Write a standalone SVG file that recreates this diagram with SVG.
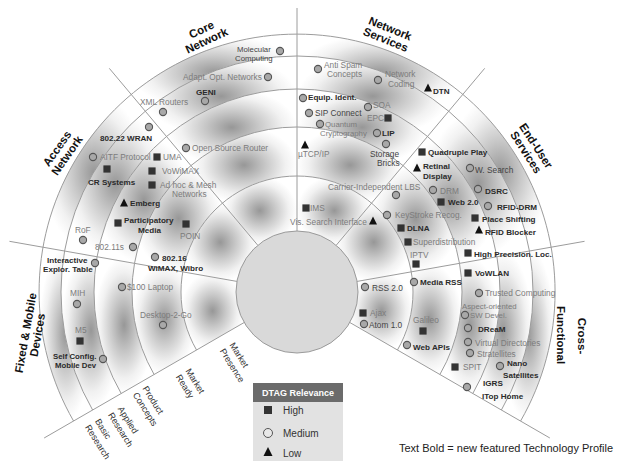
<svg xmlns="http://www.w3.org/2000/svg" width="618" height="461" viewBox="0 0 618 461">
  <defs>
    <radialGradient id="cell" cx="0.5" cy="0.5" r="0.5">
      <stop offset="0" stop-color="#979797"/>
      <stop offset="0.42" stop-color="#c9c9c9"/>
      <stop offset="0.78" stop-color="#f1f1f1"/>
      <stop offset="1" stop-color="#ffffff"/>
    </radialGradient>
    <rect id="sq" x="-3.6" y="-3.6" width="7.2" height="7.2"/>
    <circle id="ci" r="3.6"/>
    <polygon id="tr" points="0,-4.6 -4,3.4 4,3.4"/>
  </defs>
  <style>
    text { font-family: "Liberation Sans", Arial, sans-serif; }
    .g { font-size: 8.3px; fill: #7c7c7c; }
    .m { font-size: 8.3px; fill: #444; }
    .b { font-size: 8.1px; fill: #2a2a2a; font-weight: bold; }
    .tight { font-size: 7.8px; }
    .sec { font-size: 11.5px; font-weight: bold; fill: #111; text-anchor: middle; }
    .ring { font-size: 9px; fill: #333; }
    .cells path { fill: url(#cell); stroke: none; }
    .grid { fill: none; stroke: #9c9c9c; stroke-width: 1; }
    use.s { fill: #333; }
    use.c { fill: #a8a8a8; stroke: #555; stroke-width: 1.1; }
    use.t { fill: #111; }
  </style>

  <rect width="618" height="461" fill="#fff"/>

  <!-- shaded cells: 6 sectors x 5 maturity rings, centre (297,292) -->
  <g class="cells">
    <path d="M196.54,350 A116,116 0 0 1 182.76,271.86 L236.93,281.41 A61,61 0 0 0 244.17,322.5Z"/>
    <path d="M182.76,271.86 A116,116 0 0 1 222.44,203.14 L257.79,245.27 A61,61 0 0 0 236.93,281.41Z"/>
    <path d="M222.44,203.14 A116,116 0 0 1 297,176 L297,231 A61,61 0 0 0 257.79,245.27Z"/>
    <path d="M297,176 A116,116 0 0 1 371.56,203.14 L336.21,245.27 A61,61 0 0 0 297,231Z"/>
    <path d="M371.56,203.14 A116,116 0 0 1 411.24,271.86 L357.07,281.41 A61,61 0 0 0 336.21,245.27Z"/>
    <path d="M411.24,271.86 A116,116 0 0 1 397.46,350 L349.83,322.5 A61,61 0 0 0 357.07,281.41Z"/>

    <path d="M154.11,374.5 A165,165 0 0 1 134.51,263.36 L182.76,271.86 A116,116 0 0 0 196.54,350Z"/>
    <path d="M134.51,263.36 A165,165 0 0 1 190.94,165.61 L222.44,203.14 A116,116 0 0 0 182.76,271.86Z"/>
    <path d="M190.94,165.61 A165,165 0 0 1 297,127 L297,176 A116,116 0 0 0 222.44,203.14Z"/>
    <path d="M297,127 A165,165 0 0 1 403.06,165.61 L371.56,203.14 A116,116 0 0 0 297,176Z"/>
    <path d="M403.06,165.61 A165,165 0 0 1 459.49,263.36 L411.24,271.86 A116,116 0 0 0 371.56,203.14Z"/>
    <path d="M459.49,263.36 A165,165 0 0 1 439.89,374.5 L397.46,350 A116,116 0 0 0 411.24,271.86Z"/>

    <path d="M121.2,393.5 A203,203 0 0 1 97.09,256.76 L134.51,263.36 A165,165 0 0 0 154.11,374.5Z"/>
    <path d="M97.09,256.76 A203,203 0 0 1 166.51,136.5 L190.94,165.61 A165,165 0 0 0 134.51,263.36Z"/>
    <path d="M166.51,136.5 A203,203 0 0 1 297,89 L297,127 A165,165 0 0 0 190.94,165.61Z"/>
    <path d="M297,89 A203,203 0 0 1 427.49,136.5 L403.06,165.61 A165,165 0 0 0 297,127Z"/>
    <path d="M427.49,136.5 A203,203 0 0 1 496.91,256.76 L459.49,263.36 A165,165 0 0 0 403.06,165.61Z"/>
    <path d="M496.91,256.76 A203,203 0 0 1 472.8,393.5 L439.89,374.5 A165,165 0 0 0 459.49,263.36Z"/>

    <path d="M92.62,410 A236,236 0 0 1 64.59,251.03 L97.09,256.76 A203,203 0 0 0 121.2,393.5Z"/>
    <path d="M64.59,251.03 A236,236 0 0 1 145.3,111.22 L166.51,136.5 A203,203 0 0 0 97.09,256.76Z"/>
    <path d="M145.3,111.22 A236,236 0 0 1 297,56 L297,89 A203,203 0 0 0 166.51,136.5Z"/>
    <path d="M297,56 A236,236 0 0 1 448.7,111.22 L427.49,136.5 A203,203 0 0 0 297,89Z"/>
    <path d="M448.7,111.22 A236,236 0 0 1 529.41,251.03 L496.91,256.76 A203,203 0 0 0 427.49,136.5Z"/>
    <path d="M529.41,251.03 A236,236 0 0 1 501.38,410 L472.8,393.5 A203,203 0 0 0 496.91,256.76Z"/>

    <path d="M73.57,421 A258,258 0 0 1 42.92,247.21 L64.59,251.03 A236,236 0 0 0 92.62,410Z"/>
    <path d="M42.92,247.21 A258,258 0 0 1 131.16,94.37 L145.3,111.22 A236,236 0 0 0 64.59,251.03Z"/>
    <path d="M131.16,94.37 A258,258 0 0 1 297,34 L297,56 A236,236 0 0 0 145.3,111.22Z"/>
    <path d="M297,34 A258,258 0 0 1 462.84,94.37 L448.7,111.22 A236,236 0 0 0 297,56Z"/>
    <path d="M462.84,94.37 A258,258 0 0 1 551.08,247.21 L529.41,251.03 A236,236 0 0 0 448.7,111.22Z"/>
    <path d="M551.08,247.21 A258,258 0 0 1 520.57,421 L501.38,410 A236,236 0 0 0 529.41,251.03Z"/>
  </g>

  <!-- ring arcs and sector dividers -->
  <g id="grid-lines" class="grid">
    <path d="M196.54,350 A116,116 0 1 1 397.46,350"/>
    <path d="M154.11,374.5 A165,165 0 1 1 439.89,374.5"/>
    <path d="M121.2,393.5 A203,203 0 1 1 472.8,393.5"/>
    <path d="M92.62,410 A236,236 0 1 1 501.38,410"/>
    <path d="M73.57,421 A258,258 0 1 1 520.57,421"/>
    <path d="M244.17,322.5 L44.13,438"/>
    <path d="M236.93,281.41 L9.44,241.3"/>
    <path d="M257.79,245.27 L109.3,68.33"/>
    <path d="M297,231 L297,8"/>
    <path d="M336.21,245.27 L484.7,68.33"/>
    <path d="M357.07,281.41 L584.56,241.3"/>
    <path d="M349.83,322.5 L549.87,438"/>
  </g>

  <circle id="core" cx="297" cy="292" r="61" fill="#d9d9d9" stroke="#9a9a9a" stroke-width="1"/>

  <!-- sector titles -->
  <g id="sector-core"><g transform="translate(204,35) rotate(-25)"><text class="sec" y="-2">Core</text><text class="sec" y="10">Network</text></g></g>
  <g id="sector-services"><g transform="translate(388,34) rotate(22)"><text class="sec" y="-2">Network</text><text class="sec" y="10">Services</text></g></g>
  <g id="sector-access"><g transform="translate(62,152) rotate(-55)"><text class="sec" y="-2">Access</text><text class="sec" y="10">Network</text></g></g>
  <g id="sector-enduser"><g transform="translate(531,149) rotate(57)"><text class="sec" y="-2">End-User</text><text class="sec" y="10">Services</text></g></g>
  <g id="sector-devices"><g transform="translate(31.5,334) rotate(-80)"><text class="sec" y="-2">Fixed &amp; Mobile</text><text class="sec" y="10">Devices</text></g></g>
  <g id="sector-cross"><g transform="translate(582,336) rotate(90)"><text class="sec" y="4">Cross-</text></g><g transform="translate(561,335) rotate(90)"><text class="sec" y="4">Functional</text></g></g>

  <!-- maturity ring titles -->
  <g id="ring-titles">
    <g transform="translate(239,355) rotate(58)"><text class="ring" x="-13.7" y="3">Market</text><text class="ring" x="-13.7" y="14.5">Presence</text></g>
    <g transform="translate(195,381) rotate(58)"><text class="ring" x="-13.7" y="3">Market</text><text class="ring" x="-13.7" y="14.5">Ready</text></g>
    <g transform="translate(153,400) rotate(58)"><text class="ring" x="-15.4" y="3">Product</text><text class="ring" x="-15.4" y="14.5">Concepts</text></g>
    <g transform="translate(128,420) rotate(58)"><text class="ring" x="-15" y="3">Applied</text><text class="ring" x="-15" y="14.5">Research</text></g>
    <g transform="translate(103,429) rotate(58)"><text class="ring" x="-11" y="3">Basic</text><text class="ring" x="-11" y="14.5">Research</text></g>
  </g>

  <!-- Core Network / Access Network / Fixed & Mobile Devices -->
  <g id="n-adapt"><use href="#ci" class="c" x="268" y="77"/><text class="g" x="183" y="80">Adapt. Opt. Networks</text></g>
  <g id="n-geni"><use href="#ci" class="c" x="205" y="101"/><text class="b" x="196" y="95">GENI</text></g>
  <g id="n-xml"><use href="#ci" class="c" x="163" y="112"/><text class="g" x="140" y="105">XML Routers</text></g>
  <g id="n-wran"><use href="#ci" class="c" x="149" y="127"/><text class="b" x="100" y="141">802.22 WRAN</text></g>
  <g id="n-osr"><use href="#ci" class="c" x="186" y="148"/><text class="g" x="192" y="151">Open Source Router</text></g>
  <g id="n-aitf"><use href="#ci" class="c" x="93" y="157"/><text class="g" x="100" y="160">AITF Protocol</text></g>
  <g id="n-uma"><use href="#sq" class="s" x="157" y="157"/><text class="g" x="163" y="160">UMA</text></g>
  <g id="n-cr"><use href="#sq" class="s" x="107" y="169"/><text class="b" x="88" y="185">CR Systems</text></g>
  <g id="n-vowimax"><use href="#sq" class="s" x="152" y="171"/><text class="g" x="162" y="174">VoWiMAX</text></g>
  <g id="n-adhoc"><use href="#sq" class="s" x="152" y="185"/><text class="g" x="160" y="188">Ad hoc &amp; Mesh</text><text class="g" x="172" y="197">Networks</text></g>
  <g id="n-emberg"><use href="#tr" class="t" x="124" y="203"/><text class="b" x="130" y="206">Emberg</text></g>
  <g id="n-partmedia"><use href="#sq" class="s" x="118" y="223"/><text class="b" x="124" y="223">Participatory</text><text class="b" x="138" y="233">Media</text></g>
  <g id="n-poin"><use href="#sq" class="s" x="186" y="224"/><text class="g" x="180" y="239">POIN</text></g>
  <g id="n-rof"><use href="#ci" class="c" x="83" y="240"/><text class="g" x="75" y="233">RoF</text></g>
  <g id="n-80211s"><use href="#ci" class="c" x="133" y="247"/><text class="g" x="95" y="250">802.11s</text></g>
  <g id="n-80216"><use href="#ci" class="c" x="155" y="257"/><text class="b" x="162" y="261">802.16</text><text class="b" x="148" y="271">WiMAX, Wibro</text></g>
  <g id="n-table"><use href="#ci" class="c" x="95" y="263"/><text class="b" x="47" y="263">Interactive</text><text class="b" x="43" y="272">Explor. Table</text></g>
  <g id="n-laptop"><use href="#ci" class="c" x="122" y="287"/><text class="g" x="127" y="290">$100 Laptop</text></g>
  <g id="n-mih"><use href="#ci" class="c" x="77" y="304"/><text class="g" x="70" y="296">MIH</text></g>
  <g id="n-m5"><use href="#sq" class="s" x="80" y="341"/><text class="g" x="75" y="333">M5</text></g>
  <g id="n-selfconfig"><use href="#ci" class="c" x="103" y="359"/><text class="b tight" x="53" y="359">Self Config.</text><text class="b tight" x="55" y="368">Mobile Dev</text></g>
  <g id="n-desktop"><use href="#ci" class="c" x="163" y="325"/><text class="g" x="140" y="318">Desktop-2-Go</text></g>

  <!-- Network Services -->
  <g id="n-molecular"><use href="#ci" class="c" x="280" y="51"/><text class="m tight" x="237" y="52">Molecular</text><text class="m tight" x="235" y="61">Computing</text></g>
  <g id="n-antispam"><use href="#ci" class="c" x="318" y="69"/><text class="g" x="324" y="68">Anti Spam</text><text class="g" x="327" y="77">Concepts</text></g>
  <g id="n-netcoding"><use href="#ci" class="c" x="378" y="80"/><text class="g" x="385" y="77">Network</text><text class="g" x="388" y="87">Coding</text></g>
  <g id="n-dtn"><use href="#tr" class="t" x="428" y="88"/><text class="b" x="433" y="94">DTN</text></g>
  <g id="n-equip"><use href="#ci" class="c" x="303" y="98"/><text class="b" x="308" y="100">Equip. Ident.</text></g>
  <g id="n-soa"><use href="#ci" class="c" x="368" y="107"/><text class="g" x="373" y="108">SOA</text></g>
  <g id="n-sip"><use href="#ci" class="c" x="309" y="113"/><text class="m" x="315" y="116">SIP Connect</text></g>
  <g id="n-epc"><use href="#sq" class="s" x="388" y="118"/><text class="g" x="367" y="121">EPC</text></g>
  <g id="n-quantum"><use href="#ci" class="c" x="320" y="124"/><text class="g tight" x="325" y="127">Quantum</text><text class="g tight" x="320" y="136">Cryptography</text></g>
  <g id="n-lip"><use href="#ci" class="c" x="377" y="133"/><text class="b" x="382" y="136">LIP</text></g>
  <g id="n-storage"><use href="#ci" class="c" x="386" y="144"/><text class="m" x="370" y="157">Storage</text><text class="m" x="377" y="166">Bricks</text></g>
  <g id="n-utcp"><use href="#tr" class="t" x="305" y="145"/><text class="g" x="298" y="157">µTCP/IP</text></g>
  <g id="n-ims"><use href="#sq" class="s" x="306" y="208"/><text class="g" x="310" y="211">IMS</text></g>
  <g id="n-vissearch"><use href="#tr" class="t" x="373" y="221"/><text class="g" x="290" y="225">Vis. Search Interface</text></g>
  <g id="n-lbs"><use href="#ci" class="c" x="396" y="195"/><text class="g" x="328" y="190">Carrier-Independent LBS</text></g>

  <!-- End-User Services -->
  <g id="n-quadplay"><use href="#sq" class="s" x="422" y="152"/><text class="b" x="428" y="155">Quadruple Play</text></g>
  <g id="n-retinal"><use href="#tr" class="t" x="417" y="168"/><text class="b" x="423" y="169">Retinal</text><text class="b" x="423" y="179">Display</text></g>
  <g id="n-wsearch"><use href="#ci" class="c" x="470" y="168"/><text class="m" x="475" y="173">W. Search</text></g>
  <g id="n-drm"><use href="#ci" class="c" x="433" y="190"/><text class="g" x="440" y="194">DRM</text></g>
  <g id="n-dsrc"><use href="#ci" class="c" x="478" y="189"/><text class="b" x="485" y="194">DSRC</text></g>
  <g id="n-web20"><use href="#sq" class="s" x="441" y="202"/><text class="b" x="448" y="205">Web 2.0</text></g>
  <g id="n-rfiddrm"><use href="#ci" class="c" x="488" y="206"/><text class="b" x="497" y="210">RFID-DRM</text></g>
  <g id="n-placeshift"><use href="#sq" class="s" x="475" y="218"/><text class="b" x="482" y="222">Place Shifting</text></g>
  <g id="n-rfidblock"><use href="#tr" class="t" x="479" y="230"/><text class="b" x="485" y="235">RFID Blocker</text></g>
  <g id="n-keystroke"><use href="#ci" class="c" x="387" y="215"/><text class="g" x="395" y="218">KeyStroke Recog.</text></g>
  <g id="n-dlna"><use href="#sq" class="s" x="401" y="228"/><text class="b" x="407" y="231">DLNA</text></g>
  <g id="n-superdist"><use href="#sq" class="s" x="408" y="242"/><text class="g" x="413" y="245">Superdistribution</text></g>
  <g id="n-iptv"><use href="#sq" class="s" x="416" y="264"/><text class="g" x="410" y="258">IPTV</text></g>
  <g id="n-hploc"><use href="#sq" class="s" x="468" y="253"/><text class="b" x="474" y="257">High Precision. Loc.</text></g>
  <g id="n-vowlan"><use href="#sq" class="s" x="468" y="273"/><text class="b" x="475" y="276">VoWLAN</text></g>
  <g id="n-mediarss"><use href="#ci" class="c" x="414" y="282"/><text class="b" x="420" y="285">Media RSS</text></g>
  <g id="n-trusted"><use href="#ci" class="c" x="479" y="293"/><text class="g" x="485" y="296">Trusted Computing</text></g>
  <g id="n-rss"><use href="#ci" class="c" x="365" y="287"/><text class="m" x="372" y="291">RSS 2.0</text></g>

  <!-- Cross-Functional -->
  <g id="n-ajax"><use href="#sq" class="s" x="363" y="313"/><text class="g" x="370" y="316">Ajax</text></g>
  <g id="n-atom"><use href="#ci" class="c" x="364" y="324"/><text class="m" x="369" y="328">Atom 1.0</text></g>
  <g id="n-galileo"><use href="#sq" class="s" x="423" y="331"/><text class="g" x="413" y="323">Galileo</text></g>
  <g id="n-webapis"><use href="#ci" class="c" x="407" y="345"/><text class="b" x="413" y="350">Web APIs</text></g>
  <g id="n-aspect"><use href="#ci" class="c" x="465" y="315"/><text class="g tight" x="462" y="309">Aspect-oriented</text><text class="g tight" x="470" y="318">SW Devel.</text></g>
  <g id="n-dream"><use href="#ci" class="c" x="468" y="328"/><text class="b" x="478" y="332">DReaM</text></g>
  <g id="n-virtdir"><use href="#ci" class="c" x="468" y="342"/><text class="g" x="475" y="346">Virtual Directories</text></g>
  <g id="n-stratellites"><use href="#ci" class="c" x="470" y="353"/><text class="g" x="477" y="357">Stratellites</text></g>
  <g id="n-spit"><use href="#sq" class="s" x="455" y="367"/><text class="g" x="463" y="370">SPIT</text></g>
  <g id="n-nanosat"><use href="#ci" class="c" x="500" y="366"/><text class="b" x="507" y="366">Nano</text><text class="b" x="503" y="378">Satellites</text></g>
  <g id="n-igrs"><use href="#ci" class="c" x="467" y="387"/><text class="b" x="483" y="386">IGRS</text><text class="b" x="482" y="399">ITop Home</text></g>

  <!-- legend -->
  <g id="legend">
    <rect x="253" y="383" width="90" height="78" fill="#e2e2e2"/>
    <rect x="253" y="383" width="90" height="19" fill="#6b6b6b"/>
    <text x="298" y="396" font-size="9" font-weight="bold" fill="#fff" text-anchor="middle">DTAG Relevance</text>
    <rect x="264" y="406" width="8" height="8" fill="#333"/>
    <text x="283" y="414" font-size="10" fill="#333">High</text>
    <circle cx="268" cy="433" r="4.5" fill="#e8e8e8" stroke="#555" stroke-width="1"/>
    <text x="283" y="437" font-size="10" fill="#333">Medium</text>
    <polygon points="268,447 263.5,456 272.5,456" fill="#111"/>
    <text x="283" y="457" font-size="10" fill="#333">Low</text>
  </g>

  <text id="note" x="399" y="452" font-size="11" fill="#222">Text Bold = new featured Technology Profile</text>
</svg>
